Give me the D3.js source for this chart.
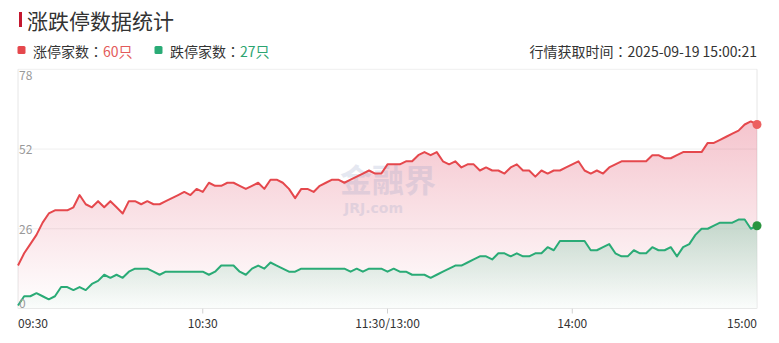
<!DOCTYPE html>
<html>
<head>
<meta charset="utf-8">
<script src="https://cdn.jsdelivr.net/npm/d3@7"></script>
<style>
body{margin:0;background:#fff;}
svg{display:block;font-family:"Noto Sans CJK SC","Noto Sans",sans-serif;}
</style>
</head>
<body>
<svg id="chart" width="779" height="343"></svg>
<script>
// 涨停 / 跌停 counts, one value every 2 trading minutes (09:30 .. 15:00)
var upCounts = [14,18,21,24,28,31,32,32,32,33,37,34,33,35,33,35,33,31,35,35,34,
    35,34,34,35,36,37,38,37,39,38,41,40,40,41,41,40,39,40,41,39,
    42,42,41,39,36,39,39,38,40,41,42,42,41,42,43,44,45,44,44,47,
    47,47,48,48,50,51,50,51,48,47,48,46,47,47,45,46,45,45,44,46,
    47,45,45,43,45,44,45,45,46,47,48,45,44,45,44,46,47,48,48,48,
    48,48,50,50,49,49,50,51,51,51,51,54,54,55,56,57,58,60,61,60];
var downCounts = [1,4,4,5,4,3,4,7,7,6,7,6,8,9,11,10,11,10,12,13,13,
    13,12,11,12,12,12,12,12,12,12,11,12,14,14,14,12,11,13,14,13,
    15,14,13,12,12,13,13,13,13,13,13,13,13,12,13,12,13,13,13,12,
    13,12,12,11,11,11,10,11,12,13,14,14,15,16,17,17,16,18,18,17,
    18,17,17,18,18,20,19,22,22,22,22,22,19,19,20,21,18,17,17,19,
    18,18,20,19,19,20,17,20,21,24,26,26,27,28,28,28,29,29,26,27];
var stepMinutes = 2;
var tickMinutes = [0, 60, 120, 180, 240];
var tickLabels = ['09:30', '10:30', '11:30/13:00', '14:00', '15:00'];
var yTicks = [0, 26, 52, 78];
var titleText = '涨跌停数据统计';
var upLabel = '涨停家数：', downLabel = '跌停家数：';
var fetchText = '行情获取时间：2025-09-19 15:00:21';

var upColor = '#e5484d', downColor = '#2aab76';
var svg = d3.select('#chart');
var plotL = 18, plotR = 757, plotT = 69.3, plotB = 308.5;

var x = d3.scaleLinear().domain([0, 240]).range([plotL, plotR]);
var y = d3.scaleLinear().domain([0, 78]).range([plotB, plotT]);

// writes a label, full-width colon taken from a font that centres it
function addLabel(textSel, str){
    var parts = str.split('：');
    for (var i = 0; i < parts.length; i++){
        if (i > 0) textSel.append('tspan').text('：').attr('font-family', '"Noto Sans CJK TC"');
        if (parts[i] != '') textSel.append('tspan').text(parts[i]);
    }
}

// header
svg.append('rect').attr('x', 19).attr('y', 12).attr('width', 3).attr('height', 15).attr('fill', '#c4182f');
svg.append('text').text(titleText).attr('x', 27).attr('y', 20).attr('dominant-baseline', 'central')
    .attr('font-size', '21px').attr('fill', '#333');

var legend = svg.append('g').attr('font-size', '14px');
legend.append('rect').attr('x', 17.5).attr('y', 46).attr('width', 8).attr('height', 8).attr('rx', 1.5).attr('fill', upColor);
var t1 = legend.append('text').attr('x', 33).attr('y', 50.5).attr('dominant-baseline', 'central').attr('fill', '#333');
addLabel(t1, upLabel);
t1.append('tspan').text(upCounts[upCounts.length - 1] + '只').attr('fill', '#e35a5a');
legend.append('rect').attr('x', 154.5).attr('y', 46).attr('width', 8).attr('height', 8).attr('rx', 1.5).attr('fill', downColor);
var t2 = legend.append('text').attr('x', 170).attr('y', 50.5).attr('dominant-baseline', 'central').attr('fill', '#333');
addLabel(t2, downLabel);
t2.append('tspan').text(downCounts[downCounts.length - 1] + '只').attr('fill', '#2ba471');
var t3 = legend.append('text').attr('x', 757).attr('y', 50.5).attr('text-anchor', 'end')
    .attr('dominant-baseline', 'central').attr('fill', '#333');
addLabel(t3, fetchText);

// grid + frame
var grid = svg.append('g');
grid.selectAll('line.h').data(yTicks).enter().append('line')
    .attr('x1', plotL).attr('x2', plotR).attr('y1', function(d){ return y(d); }).attr('y2', function(d){ return y(d); })
    .attr('stroke', function(d){ return d == 0 ? '#e3e3e3' : '#efefef'; }).attr('stroke-width', 1);
grid.append('line').attr('x1', plotL).attr('x2', plotL).attr('y1', plotT).attr('y2', plotB).attr('stroke', '#e6e6e6');
grid.append('line').attr('x1', plotR).attr('x2', plotR).attr('y1', plotT).attr('y2', plotB).attr('stroke', '#e6e6e6');
grid.selectAll('line.t').data(tickMinutes.slice(1, 4)).enter().append('line')
    .attr('x1', function(d){ return x(d); }).attr('x2', function(d){ return x(d); })
    .attr('y1', plotB).attr('y2', plotB + 5).attr('stroke', '#d0d0d0');

// gradients
var defs = svg.append('defs');
function grad(id, color, a0, a1){
    var g = defs.append('linearGradient').attr('id', id).attr('x1', 0).attr('y1', 0).attr('x2', 0).attr('y2', 1);
    g.append('stop').attr('offset', '0%').attr('stop-color', color).attr('stop-opacity', a0);
    g.append('stop').attr('offset', '100%').attr('stop-color', color).attr('stop-opacity', a1);
}
grad('upFill', '#dc3c5a', 0.30, 0.0);
grad('downFill', '#1e8a55', 0.26, 0.02);

var area = d3.area().x(function(d, i){ return x(i * stepMinutes); }).y0(y(0)).y1(function(d){ return y(d); });
var line = d3.line().x(function(d, i){ return x(i * stepMinutes); }).y(function(d){ return y(d); });

svg.append('path').datum(upCounts).attr('d', area).attr('fill', 'url(#upFill)');
svg.append('path').datum(downCounts).attr('d', area).attr('fill', '#fff').attr('fill-opacity', 0.5);
svg.append('path').datum(downCounts).attr('d', area).attr('fill', 'url(#downFill)');

// watermark
var wm = svg.append('g').attr('fill', '#8e9cc4').attr('opacity', 0.22).attr('font-weight', 'bold');
wm.append('text').text('金融界').attr('x', 340).attr('y', 192).attr('font-size', '32px');
wm.append('text').text('JRJ.com').attr('x', 344).attr('y', 213).attr('font-size', '14px').attr('font-family', 'DejaVu Sans');

svg.append('path').datum(upCounts).attr('d', line).attr('fill', 'none').attr('stroke', upColor).attr('stroke-width', 2).attr('stroke-linejoin', 'round');
svg.append('path').datum(downCounts).attr('d', line).attr('fill', 'none').attr('stroke', downColor).attr('stroke-width', 2).attr('stroke-linejoin', 'round');

var lastI = upCounts.length - 1;
svg.append('circle').attr('cx', x(lastI * stepMinutes)).attr('cy', y(upCounts[lastI])).attr('r', 4.5).attr('fill', '#ec6060');
svg.append('circle').attr('cx', x(lastI * stepMinutes)).attr('cy', y(downCounts[lastI])).attr('r', 4.5).attr('fill', '#2b943f');

// y labels (inside plot)
svg.selectAll('text.yl').data(yTicks).enter().append('text').attr('class', 'yl')
    .text(function(d){ return d; })
    .attr('x', 19)
    .attr('y', function(d){ return d == 78 ? y(d) + 5 : (d == 0 ? y(d) - 6 : y(d) - 0.5); })
    .attr('dominant-baseline', 'central').attr('font-size', '12px').attr('fill', '#999');

// x labels
svg.selectAll('text.xl').data(tickMinutes).enter().append('text').attr('class', 'xl')
    .text(function(d, i){ return tickLabels[i]; })
    .attr('x', function(d){ return x(d); }).attr('y', 322)
    .attr('text-anchor', function(d, i){ return i == 0 ? 'start' : (i == tickMinutes.length - 1 ? 'end' : 'middle'); })
    .attr('dominant-baseline', 'central').attr('font-size', '12px').attr('fill', '#333');
</script>
</body>
</html>
